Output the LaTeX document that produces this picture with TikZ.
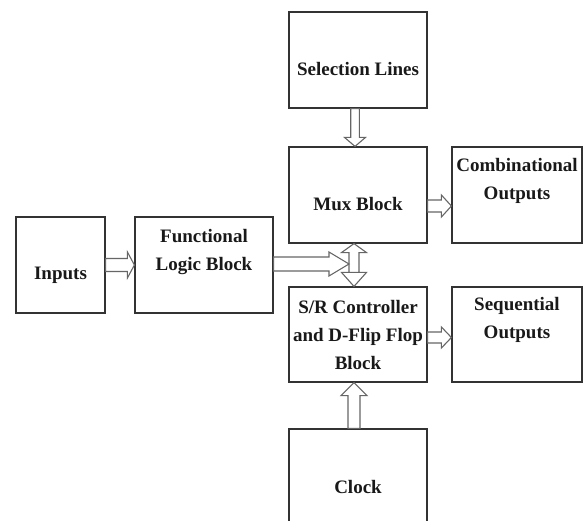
\documentclass[tikz,border=0pt]{standalone}
\usepackage{fontspec}
\setmainfont{Liberation Serif}
\usetikzlibrary{calc}
% right-pointing block arrow: from, to, dy, shaft half, head half, head length
\newcommand\rarrow[6]{\draw[arr] let \p1=($(#1)+(0,#3)$), \p2=($(#2)+(0,#3)$) in
  (\x1,\y1+#4pt) -- (\x2-#6pt,\y1+#4pt) -- (\x2-#6pt,\y1+#5pt) -- (\x2,\y1)
  -- (\x2-#6pt,\y1-#5pt) -- (\x2-#6pt,\y1-#4pt) -- (\x1,\y1-#4pt) -- cycle;}
% down-pointing block arrow
\newcommand\darrow[6]{\draw[arr] let \p1=($(#1)+(#3,0)$), \p2=($(#2)+(#3,0)$) in
  (\x1+#4pt,\y1) -- (\x1+#4pt,\y2+#6pt) -- (\x1+#5pt,\y2+#6pt) -- (\x1,\y2)
  -- (\x1-#5pt,\y2+#6pt) -- (\x1-#4pt,\y2+#6pt) -- (\x1-#4pt,\y1) -- cycle;}
% up-pointing block arrow
\newcommand\uarrow[6]{\draw[arr] let \p1=($(#1)+(#3,0)$), \p2=($(#2)+(#3,0)$) in
  (\x1+#4pt,\y1) -- (\x1+#4pt,\y2-#6pt) -- (\x1+#5pt,\y2-#6pt) -- (\x1,\y2)
  -- (\x1-#5pt,\y2-#6pt) -- (\x1-#4pt,\y2-#6pt) -- (\x1-#4pt,\y1) -- cycle;}
\begin{document}
\begin{tikzpicture}[x=1pt,y=-1pt,
  box/.style={draw=black!80,line width=1.2pt,minimum width=138pt,minimum height=96pt,inner sep=0pt},
  lbl/.style={anchor=base,align=center,font=\fontsize{19}{28}\selectfont\bfseries,text=black!90,inner sep=0pt},
  arr/.style={draw=black!60,fill=white,line width=1.1pt,line join=miter}]
\useasboundingbox (0,0) rectangle (583,521);
\fill[white] (0,0) rectangle (583,521);
% boxes
\node[box,minimum width=89pt] (in) at (60.5,265) {};
\node[box] (flb) at (204,265) {};
\node[box] (sel) at (358,60) {};
\node[box] (mux) at (358,195) {};
\node[box,minimum width=130pt] (comb) at (517,195) {};
\node[box,minimum height=95pt] (sr) at (358,334.5) {};
\node[box,minimum width=130pt,minimum height=95pt] (seq) at (517,334.5) {};
\node[box] (clk) at (358,477) {};
% labels (base = baseline of the last line)
\node[lbl] (tin) at (60.5,279) {Inputs};
\node[lbl] (tflb) at (204,270.5) {Functional\\Logic Block};
\node[lbl] (tsel) at (358,76) {Selection Lines};
\node[lbl] (tmux) at (358,211) {Mux Block};
\node[lbl] (tcomb) at (517,200) {Combinational\\Outputs};
\node[lbl] (tsr) at (358,369) {S/R Controller\\and D-Flip Flop\\Block};
\node[lbl] (tseq) at (517,338) {Sequential\\Outputs};
\node[lbl] (tclk) at (358,493) {Clock};
% connectors
\coordinate (dtip) at ($(mux.south)+(-9,0)$);
\rarrow{in.east}{flb.west}{0}{6.5}{13}{7}
\rarrow{mux.east}{comb.west}{11}{6}{11}{10}
\rarrow{sr.east}{seq.west}{3}{5.5}{10.5}{10}
\darrow{sel.south}{mux.north}{-3}{4.3}{10.5}{9}
\uarrow{clk.north}{sr.south}{-4}{6}{13}{13}
\draw[arr] let \p1=($(mux.south)+(-4,0)$), \p2=($(sr.north)+(-4,0)$) in
  (\x1,\y1) -- (\x1+12.5pt,\y1-9pt) -- (\x1+5pt,\y1-9pt) -- (\x1+5pt,\y2+14pt)
  -- (\x1+12.5pt,\y2+14pt) -- (\x1,\y2) -- (\x1-12.5pt,\y2+14pt) -- (\x1-5pt,\y2+14pt)
  -- (\x1-5pt,\y1-9pt) -- (\x1-12.5pt,\y1-9pt) -- cycle
  (\x1-12.5pt,\y2+14pt) -- (\x1+12.5pt,\y2+14pt);
\rarrow{flb.east}{dtip}{-1}{7}{12}{20}
\end{tikzpicture}
\end{document}
